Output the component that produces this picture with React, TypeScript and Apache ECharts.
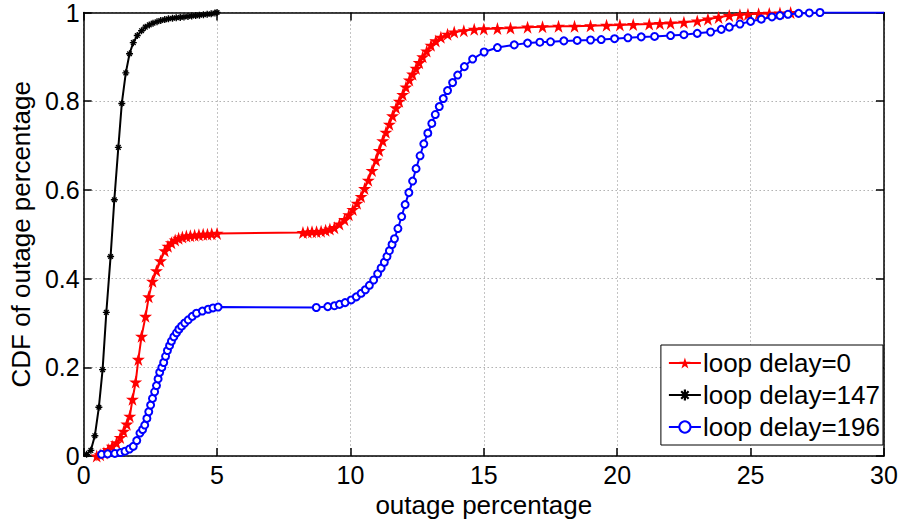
import React, { useEffect, useRef } from "react";
import * as echarts from "echarts";

const xTicks = [0, 5, 10, 15, 20, 25, 30];
const yTicks = [0, 0.2, 0.4, 0.6, 0.8, 1];
const seriesNames = ["loop delay=0", "loop delay=147", "loop delay=196"];

const delay0: number[][] = [
  [0.49, 0.0], [0.62, 0.003], [0.76, 0.007], [0.92, 0.015], [1.07, 0.022], [1.23, 0.03], [1.37, 0.042],
  [1.5, 0.056], [1.62, 0.072], [1.73, 0.09], [1.83, 0.128], [1.95, 0.167], [2.05, 0.218], [2.17, 0.27],
  [2.32, 0.315], [2.44, 0.359], [2.58, 0.394], [2.73, 0.418], [2.88, 0.44], [3.04, 0.463], [3.16, 0.473],
  [3.29, 0.481], [3.43, 0.487], [3.56, 0.491], [3.7, 0.494], [3.85, 0.496], [4.0, 0.497], [4.16, 0.498],
  [4.32, 0.499], [4.48, 0.5], [4.64, 0.5], [4.8, 0.501], [5.0, 0.502],
  [8.22, 0.504], [8.4, 0.505], [8.56, 0.506], [8.73, 0.506], [8.9, 0.507], [9.07, 0.509], [9.23, 0.512],
  [9.4, 0.515], [9.59, 0.523], [9.78, 0.533], [9.94, 0.544], [10.09, 0.556], [10.25, 0.57], [10.4, 0.585],
  [10.53, 0.603], [10.67, 0.622], [10.81, 0.644], [10.96, 0.667], [11.08, 0.689], [11.21, 0.711],
  [11.33, 0.73], [11.46, 0.748], [11.58, 0.767], [11.71, 0.785], [11.83, 0.8], [11.96, 0.815],
  [12.08, 0.832], [12.21, 0.848], [12.33, 0.861], [12.46, 0.874], [12.58, 0.887], [12.71, 0.9],
  [12.86, 0.913], [13.02, 0.926], [13.2, 0.936], [13.39, 0.944], [13.64, 0.951], [13.89, 0.956],
  [14.25, 0.959], [14.64, 0.962], [15.0, 0.963], [15.51, 0.964], [16.0, 0.965], [16.64, 0.967],
  [17.2, 0.968], [17.8, 0.969], [18.4, 0.969], [19.0, 0.97], [19.6, 0.971], [20.1, 0.972], [20.6, 0.973],
  [21.2, 0.974], [21.6, 0.975], [22.0, 0.976], [22.5, 0.978], [23.0, 0.981], [23.4, 0.985], [23.8, 0.989],
  [24.2, 0.993], [24.6, 0.995], [24.9, 0.996], [25.3, 0.997], [25.7, 0.998], [26.1, 0.999], [26.5, 1.0],
];

const delay147: number[][] = [
  [0.11, 0.004], [0.27, 0.013], [0.42, 0.046], [0.57, 0.11], [0.71, 0.195], [0.85, 0.324], [1.01, 0.45],
  [1.15, 0.578], [1.3, 0.696], [1.43, 0.795], [1.58, 0.864], [1.72, 0.907], [1.86, 0.932], [2.01, 0.948],
  [2.17, 0.959], [2.31, 0.967], [2.46, 0.972], [2.6, 0.976], [2.75, 0.979], [2.89, 0.982], [3.04, 0.984],
  [3.18, 0.986], [3.33, 0.987], [3.47, 0.988], [3.62, 0.989], [3.76, 0.99], [3.91, 0.991], [4.05, 0.992],
  [4.2, 0.993], [4.34, 0.994], [4.49, 0.995], [4.63, 0.996], [4.78, 0.997], [4.92, 0.999], [5.0, 1.0],
];

const delay196: number[][] = [
  [0.67, 0.004], [0.9, 0.005], [1.17, 0.006], [1.38, 0.008], [1.55, 0.011], [1.72, 0.016], [1.86, 0.022],
  [1.99, 0.035], [2.11, 0.052], [2.21, 0.06], [2.29, 0.07], [2.37, 0.085], [2.44, 0.1], [2.51, 0.115],
  [2.58, 0.13], [2.66, 0.145], [2.73, 0.159], [2.79, 0.174], [2.85, 0.189], [2.93, 0.2], [3.0, 0.211],
  [3.07, 0.225], [3.14, 0.238], [3.22, 0.249], [3.29, 0.259], [3.38, 0.269], [3.48, 0.278], [3.57, 0.286],
  [3.67, 0.293], [3.79, 0.3], [3.92, 0.307], [4.07, 0.315], [4.23, 0.322], [4.45, 0.327], [4.67, 0.331],
  [4.85, 0.334], [5.04, 0.336],
  [8.72, 0.335], [9.15, 0.337], [9.4, 0.339], [9.59, 0.342], [9.8, 0.346], [10.03, 0.352], [10.22, 0.359],
  [10.4, 0.367], [10.56, 0.375], [10.71, 0.385], [10.87, 0.397], [11.02, 0.411], [11.15, 0.424],
  [11.27, 0.437], [11.37, 0.45], [11.46, 0.463], [11.56, 0.477], [11.65, 0.49], [11.78, 0.513],
  [11.92, 0.54], [12.05, 0.567], [12.19, 0.594], [12.33, 0.62], [12.46, 0.648], [12.61, 0.677],
  [12.75, 0.704], [12.9, 0.728], [13.05, 0.75], [13.18, 0.77], [13.33, 0.788], [13.48, 0.806],
  [13.64, 0.824], [13.83, 0.842], [14.02, 0.859], [14.27, 0.878], [14.58, 0.895], [15.01, 0.911],
  [15.51, 0.921], [16.14, 0.927], [16.64, 0.931], [17.1, 0.933], [17.5, 0.934], [18.0, 0.936],
  [18.5, 0.937], [19.0, 0.938], [19.4, 0.939], [19.9, 0.941], [20.4, 0.943], [20.9, 0.945], [21.4, 0.946],
  [22.0, 0.948], [22.5, 0.95], [23.0, 0.953], [23.5, 0.956], [23.9, 0.962], [24.2, 0.967], [24.6, 0.974],
  [25.0, 0.98], [25.4, 0.985], [25.8, 0.99], [26.1, 0.993], [26.4, 0.996], [26.8, 0.998], [27.2, 0.999],
  [27.6, 1.0],
];
const delay196Tail: number[][] = [[30, 1.0]];

const STAR =
  "path://M50,0 L61.2,34.5 L97.6,34.5 L68.2,55.9 L79.4,90.5 L50,69.1 L20.6,90.5 L31.8,55.9 L2.4,34.5 L38.8,34.5 Z";
const ASTERISK =
  "path://M4,0 L6,0 L6,10 L4,10 Z M0,4 L10,4 L10,6 L0,6 Z M1,2.4 L2.4,1 L9,7.6 L7.6,9 Z M7.6,1 L9,2.4 L2.4,9 L1,7.6 Z";

const FONT = "Liberation Sans, Arial, Helvetica, sans-serif";

export default function App() {
  const ref = useRef<HTMLDivElement>(null);

  useEffect(() => {
    if (!ref.current) return;
    const chart = echarts.init(ref.current, undefined, { renderer: "svg" });

    const baseX = {
      type: "value" as const,
      min: xTicks[0],
      max: xTicks[xTicks.length - 1],
      interval: 5,
    };
    const baseY = {
      type: "value" as const,
      min: yTicks[0],
      max: yTicks[yTicks.length - 1],
      interval: 0.2,
    };
    const axisLine = { show: true, onZero: false, lineStyle: { color: "#000", width: 1.5 } };
    const axisTick = { show: true, inside: true, length: 8, lineStyle: { color: "#000", width: 1.5 } };

    chart.setOption({
      animation: false,
      backgroundColor: "#fff",
      grid: { left: 82, right: 20, top: 10, bottom: 63, containLabel: false },
      legend: {
        right: 21,
        bottom: 78,
        orient: "vertical",
        data: seriesNames,
        backgroundColor: "#fff",
        borderColor: "#000",
        borderWidth: 1,
        padding: [5, 3, 5, 7],
        itemGap: 6,
        itemWidth: 32,
        itemHeight: 14,
        textStyle: { fontFamily: FONT, fontSize: 26, color: "#000", lineHeight: 26, padding: [0, 0, 0, -3] },
      },
      xAxis: [
        {
          ...baseX,
          position: "bottom",
          name: "outage percentage",
          nameLocation: "middle",
          nameGap: 33,
          nameTextStyle: { fontFamily: FONT, fontSize: 26, color: "#000" },
          axisLine,
          axisTick,
          axisLabel: { fontFamily: FONT, fontSize: 25, color: "#000", margin: 6 },
          splitLine: { show: true, lineStyle: { color: "#888", type: [1, 3], width: 1 } },
        },
        {
          ...baseX,
          position: "top",
          axisLine,
          axisTick,
          axisLabel: { show: false },
          splitLine: { show: false },
        },
      ],
      yAxis: [
        {
          ...baseY,
          position: "left",
          name: "CDF of outage percentage",
          nameLocation: "middle",
          nameGap: 47,
          nameTextStyle: { fontFamily: FONT, fontSize: 26, color: "#000" },
          axisLine,
          axisTick,
          axisLabel: { fontFamily: FONT, fontSize: 25, color: "#000", margin: 4 },
          splitLine: { show: true, lineStyle: { color: "#888", type: [1, 3], width: 1 } },
        },
        {
          ...baseY,
          position: "right",
          axisLine,
          axisTick,
          axisLabel: { show: false },
          splitLine: { show: false },
        },
      ],
      series: [
        {
          name: seriesNames[0],
          type: "line",
          data: delay0,
          symbol: STAR,
          symbolSize: 13,
          showAllSymbol: true,
          color: "#ff0000",
          lineStyle: { color: "#ff0000", width: 2 },
          itemStyle: { color: "#ff0000" },
          z: 3,
        },
        {
          name: seriesNames[1],
          type: "line",
          data: delay147,
          symbol: ASTERISK,
          symbolSize: 7,
          showAllSymbol: true,
          color: "#000",
          lineStyle: { color: "#000", width: 2 },
          itemStyle: { color: "#000" },
          z: 4,
        },
        {
          name: seriesNames[2],
          type: "line",
          data: [
            ...delay196,
            ...delay196Tail.map((p) => ({ value: p, symbol: "none" })),
          ],
          symbol: "emptyCircle",
          symbolSize: 7,
          showAllSymbol: true,
          color: "#0000ff",
          lineStyle: { color: "#0000ff", width: 2 },
          itemStyle: { color: "#0000ff", borderColor: "#0000ff", borderWidth: 2 },
          z: 5,
        },
      ],
    });

    return () => chart.dispose();
  }, []);

  return <div ref={ref} style={{ width: 904, height: 523, position: "absolute", left: 0, top: 0 }} />;
}
